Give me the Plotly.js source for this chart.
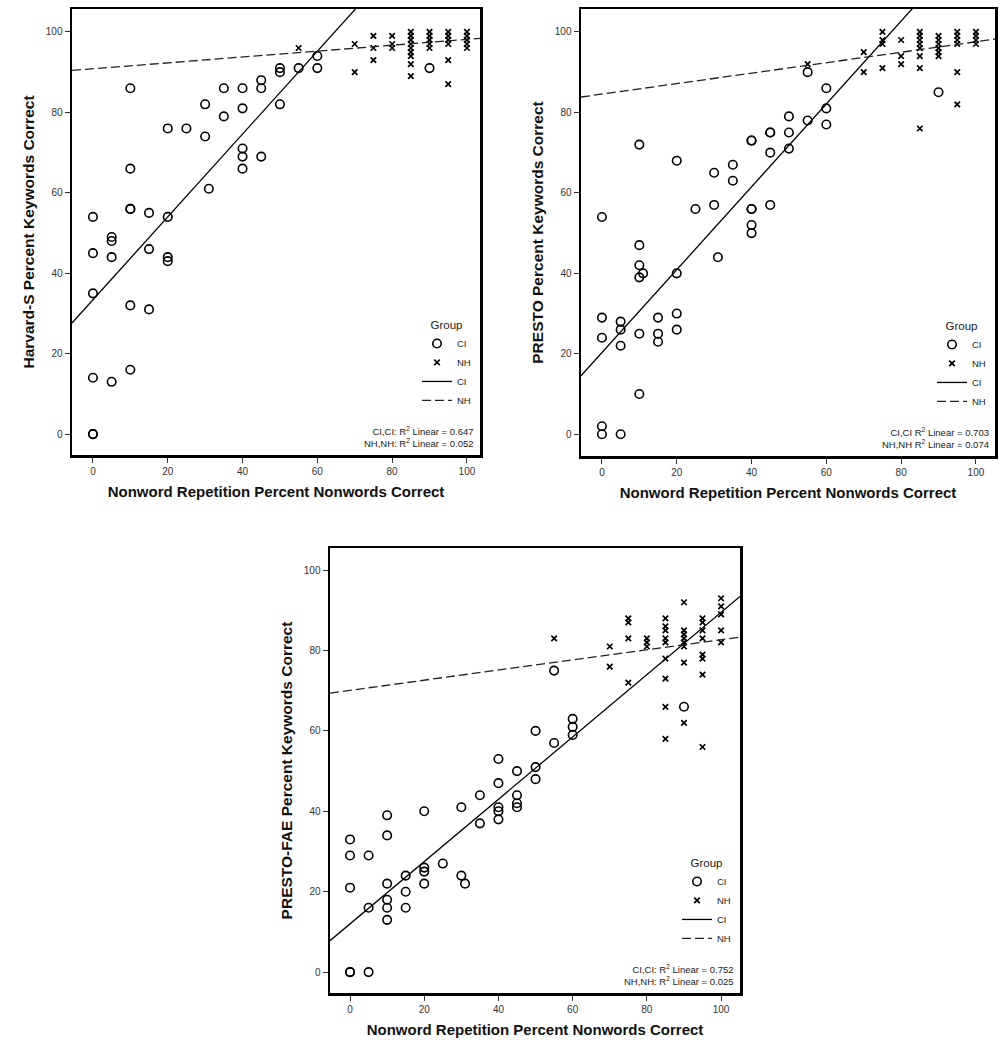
<!DOCTYPE html>
<html>
<head>
<meta charset="utf-8">
<script src="https://cdn.plot.ly/plotly-3.0.1.min.js"></script>
<style>html,body{margin:0;padding:0;background:#fff;}#chart{width:1002px;height:1050px;}</style>
</head>
<body>
<div id="chart"></div>
<script>
// ---------- Panel 1: Harvard-S ----------
const hsCIx = [0,0,0,0,0,0, 5,5,5,5, 10,10,10,10,10,10, 15,15,15, 20,20,20,20, 25, 30,30, 31, 35,35, 40,40,40,40,40, 45,45,45, 50,50,50, 55, 60,60, 90];
const hsCIy = [54,45,35,14,0,0, 49,48,44,13, 86,66,56,56,32,16, 55,46,31, 76,54,44,43, 76, 82,74, 61, 86,79, 86,81,71,69,66, 88,86,69, 91,90,82, 91, 94,91, 91];
const hsNHx = [55, 70,70, 75,75,75, 80,80,80, 85,85,85,85,85,85,85,85,85, 90,90,90,90,90, 95,95,95,95,95,95, 100,100,100,100,100];
const hsNHy = [96, 97,90, 99,96,93, 99,97,96, 100,99,98,97,96,95,94,92,89, 100,99,98,97,96, 100,99,98,97,93,87, 100,99,98,97,96];
const hsFitCI = [33.4, 1.03];   // intercept, slope
const hsFitNH = [90.85, 0.073];
const hsR2 = ["0.647", "0.052"];

// ---------- Panel 2: PRESTO ----------
const prCIx = [0,0,0,0,0, 5,5,5,5, 10,10,10,10,11,10,10, 15,15,15, 20,20,20,20, 25, 30,30, 31, 35,35, 40,40,40,40,40,40, 45,45,45,45, 50,50,50, 55,55, 60,60,60, 90];
const prCIy = [54,29,24,2,0, 28,26,22,0, 72,47,42,39,40,25,10, 29,25,23, 68,40,30,26, 56, 65,57, 44, 67,63, 73,73,56,56,52,50, 75,75,70,57, 79,75,71, 90,78, 86,81,77, 85];
const prNHx = [55, 70,70, 75,75,75,75, 80,80,80, 85,85,85,85,85,85,85,85, 90,90,90,90,90,90, 95,95,95,95,95,95, 100,100,100,100];
const prNHy = [92, 95,90, 100,98,97,91, 98,94,92, 100,99,98,97,96,94,91,76, 99,98,97,96,95,94, 100,99,98,97,90,82, 100,99,98,97];
const prFitCI = [20.3, 1.03];
const prFitNH = [84.55, 0.13];
const prR2 = ["0.703", "0.074"];

// ---------- Panel 3: PRESTO-FAE ----------
const faCIx = [0,0,0,0,0, 5,5,5, 10,10,10,10,10,10, 15,15,15, 20,20,20,20, 25, 30,30, 31, 35,35, 40,40,40,40,40, 45,45,45,45, 50,50,50, 55,55, 60,60,60, 90];
const faCIy = [33,29,21,0,0, 29,16,0, 39,34,22,18,16,13, 24,20,16, 40,26,25,22, 27, 41,24, 22, 44,37, 53,47,41,40,38, 50,44,42,41, 60,51,48, 75,57, 63,61,59, 66];
const faNHx = [55, 70,70, 75,75,75,75, 80,80,80, 85,85,85,85,85,85,85,85,85, 90,90,90,90,90,90,90,90, 95,95,95,95,95,95,95,95, 100,100,100,100,100];
const faNHy = [83, 81,76, 88,87,83,72, 83,82,81, 88,86,85,83,82,78,73,66,58, 92,85,84,83,82,81,77,62, 88,87,85,83,79,78,74,56, 93,91,89,85,82];
const faFitCI = [12.0, 0.775];
const faFitNH = [70.1, 0.126];
const faR2 = ["0.752", "0.025"];

const tickVals = [0, 20, 40, 60, 80, 100];
const xTitle = "Nonword Repetition Percent Nonwords Correct";
const yTitles = ["Harvard-S Percent Keywords Correct", "PRESTO Percent Keywords Correct", "PRESTO-FAE Percent Keywords Correct"];
const groupNames = ["CI", "NH"];

// ---------- Layout geometry ----------
const W = 1002, H = 1050;
const FONT = "Liberation Sans, Arial, Helvetica, sans-serif";
const panels = [
  {ax: "", ci: [hsCIx, hsCIy], nh: [hsNHx, hsNHy], fitCI: hsFitCI, fitNH: hsFitNH, r2: hsR2, sep: ":",
   px: [72, 480], py: [9, 455], xr: [-5.6, 103.5], yr: [-5.2, 105.7], leg: "legend"},
  {ax: "2", ci: [prCIx, prCIy], nh: [prNHx, prNHy], fitCI: prFitCI, fitNH: prFitNH, r2: prR2, sep: "",
   px: [581, 995], py: [9, 456], xr: [-5.6, 105.1], yr: [-5.4, 105.7], leg: "legend2"},
  {ax: "3", ci: [faCIx, faCIy], nh: [faNHx, faNHy], fitCI: faFitCI, fitNH: faFitNH, r2: faR2, sep: ":",
   px: [330, 740], py: [548, 993], xr: [-5.4, 105.1], yr: [-5.2, 105.5], leg: "legend3"}
];

const traces = [];
const layout = {
  width: W, height: H,
  margin: {l: 0, r: 0, t: 0, b: 0},
  paper_bgcolor: "#fff", plot_bgcolor: "#fff",
  font: {family: FONT, color: "#000"},
  showlegend: true,
  annotations: []
};

panels.forEach((p, i) => {
  const xa = "x" + p.ax, ya = "y" + p.ax;
  traces.push({type: "scatter", mode: "markers", x: p.ci[0], y: p.ci[1], xaxis: xa, yaxis: ya, name: groupNames[0],
    legend: p.leg, cliponaxis: false,
    marker: {symbol: "circle-open", size: 8.5, color: "#000", line: {width: 1.6, color: "#000"}}});
  traces.push({type: "scatter", mode: "markers", x: p.nh[0], y: p.nh[1], xaxis: xa, yaxis: ya, name: groupNames[1],
    legend: p.leg, cliponaxis: false,
    marker: {symbol: "x-thin-open", size: 5.5, color: "#000", line: {width: 1.7, color: "#000"}}});
  const xs = [p.xr[0], p.xr[1]];
  traces.push({type: "scatter", mode: "lines", x: xs, y: xs.map(v => p.fitCI[0] + p.fitCI[1] * v), xaxis: xa, yaxis: ya,
    name: groupNames[0], legend: p.leg, line: {color: "#000", width: 1.3}});
  traces.push({type: "scatter", mode: "lines", x: xs, y: xs.map(v => p.fitNH[0] + p.fitNH[1] * v), xaxis: xa, yaxis: ya,
    name: groupNames[1], legend: p.leg, line: {color: "#222", width: 1.3, dash: "9px,4px"}});

  const xdom = [p.px[0] / W, p.px[1] / W];
  const ydom = [1 - p.py[1] / H, 1 - p.py[0] / H];
  const axBase = {showline: true, linewidth: 2.5, linecolor: "#000", mirror: true, ticks: "outside", ticklen: 5,
    tickwidth: 1, tickcolor: "#333", tickvals: tickVals, showgrid: false, zeroline: false,
    tickfont: {size: 10, color: "#333", family: FONT}, fixedrange: true};
  layout["xaxis" + p.ax] = Object.assign({}, axBase, {domain: xdom, range: p.xr, anchor: ya,
    title: {text: xTitle, font: {size: 15, family: FONT, color: "#111", weight: "bold"}, standoff: 11}});
  layout["yaxis" + p.ax] = Object.assign({}, axBase, {domain: ydom, range: p.yr, anchor: xa,
    title: {text: yTitles[i], font: {size: 15.5, family: FONT, color: "#111", weight: "bold"}, standoff: 8}});

  layout[p.leg] = {
    x: (p.px[1] - 4) / W, xanchor: "right", xref: "paper",
    y: 1 - (p.py[1] - 141) / H, yanchor: "top", yref: "paper",
    bgcolor: "rgba(0,0,0,0)", borderwidth: 0,
    font: {size: 9.5, family: FONT, color: "#222"},
    title: {text: "Group", side: "top center", font: {size: 11.5, family: FONT, color: "#222"}},
    itemwidth: 30, tracegroupgap: 0
  };

  layout.annotations.push({xref: "paper", yref: "paper", x: (p.px[1] - 4) / W, y: 1 - (p.py[1] - 4) / H,
    xanchor: "right", yanchor: "bottom", align: "right", showarrow: false,
    font: {size: 9.5, family: FONT, color: "#222"},
    text: "CI,CI" + p.sep + " R<sup>2</sup> Linear = " + p.r2[0] + "<br>NH,NH" + p.sep + " R<sup>2</sup> Linear = " + p.r2[1]});
});

Plotly.newPlot("chart", traces, layout, {staticPlot: true, displayModeBar: false});
</script>
</body>
</html>
